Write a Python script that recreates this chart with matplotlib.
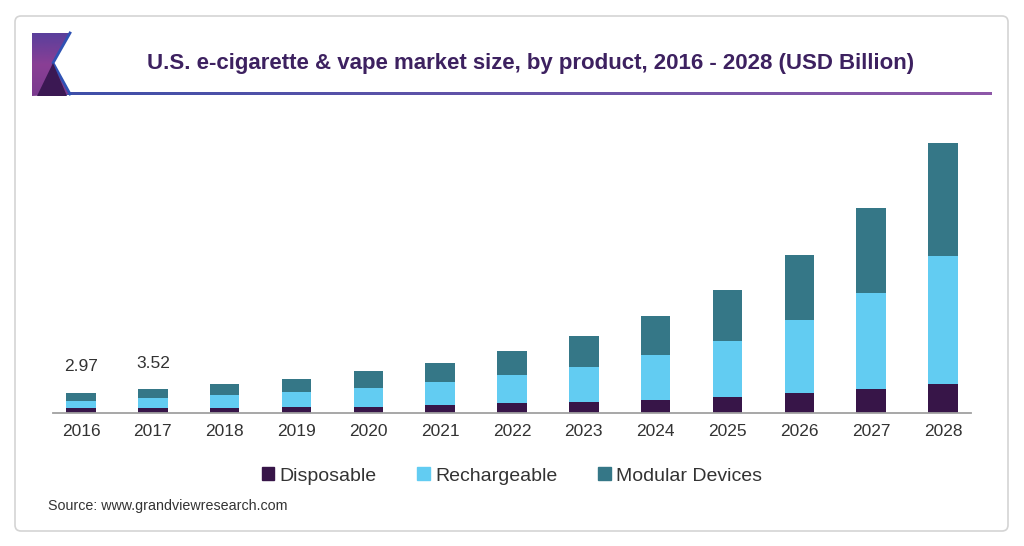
import matplotlib
matplotlib.use("Agg")
import matplotlib.pyplot as plt
import numpy as np
from matplotlib.patches import Polygon, FancyBboxPatch, Patch

plt.rcParams['font.family'] = ['Liberation Sans', 'DejaVu Sans']

# Data (USD Billion)
years = ['2016', '2017', '2018', '2019', '2020', '2021', '2022',
         '2023', '2024', '2025', '2026', '2027', '2028']
disposable = [0.62, 0.66, 0.65, 0.89, 0.89, 1.14, 1.40, 1.63, 1.89, 2.30, 2.90, 3.49, 4.23]
rechargeable = [1.15, 1.48, 1.98, 2.23, 2.73, 3.37, 4.16, 5.20, 6.69, 8.32, 10.85, 14.26, 19.02]
modular = [1.20, 1.38, 1.63, 1.93, 2.57, 2.82, 3.51, 4.56, 5.69, 7.58, 9.66, 12.63, 16.79]
labels = {0: '2.97', 1: '3.52'}

c_disp = '#371548'
c_rech = '#62ccf2'
c_mod = '#357787'

fig = plt.figure(figsize=(10.24, 5.46), dpi=100)

# decoration layer in pixel coordinates (frame, logo, title rule)
deco = fig.add_axes([0, 0, 1, 1], zorder=0)
deco.set_xlim(0, 1024)
deco.set_ylim(546, 0)
deco.axis('off')

frame = FancyBboxPatch((15, 16), 993, 515, boxstyle='round,pad=0,rounding_size=6',
                       facecolor='white', edgecolor='#d4d4d4', linewidth=1.2)
deco.add_patch(frame)

# gradient rule under the title
rule_cmap = matplotlib.colors.LinearSegmentedColormap.from_list('rule', ['#3c4fa8', '#8e58a8'])
deco.imshow(np.linspace(0, 1, 256).reshape(1, -1), extent=(33, 992, 95, 92),
            cmap=rule_cmap, aspect='auto', zorder=1)

# logo
logo = Polygon([(32, 33), (70, 33), (53, 63), (70, 94), (32, 96)], closed=True,
               facecolor='none', edgecolor='none')
deco.add_patch(logo)
grad = np.linspace(0, 1, 100).reshape(-1, 1)
cmap = matplotlib.colors.LinearSegmentedColormap.from_list('lg', ['#5a3f9c', '#8a3f95', '#7a3a8e'])
im = deco.imshow(grad, extent=(32, 70, 96, 33), cmap=cmap, aspect='auto', zorder=2)
im.set_clip_path(logo)
deco.plot([70, 53, 70], [33, 63, 94], color='#2f52b4', lw=2.0, zorder=3)
deco.add_patch(Polygon([(37, 96), (53, 63), (67, 96)], closed=True,
                       facecolor='#3b1853', edgecolor='none', zorder=4))
deco.set_xlim(0, 1024)
deco.set_ylim(546, 0)

fig.text(531 / 1024, 1 - 63 / 546,
         'U.S. e-cigarette & vape market size, by product, 2016 - 2028 (USD Billion)',
         ha='center', va='center', fontsize=16, fontweight='bold', color='#3d2160')

# main chart
ax = fig.add_axes([53 / 1024, 0.2445, (971 - 53) / 1024, 0.5174], zorder=2)
ax.patch.set_alpha(0)
x = np.arange(len(years))
w = 0.41
bottom2 = np.array(disposable)
bottom3 = bottom2 + np.array(rechargeable)
ax.bar(x, disposable, w, color=c_disp, label='Disposable')
ax.bar(x, rechargeable, w, bottom=bottom2, color=c_rech, label='Rechargeable')
ax.bar(x, modular, w, bottom=bottom3, color=c_mod, label='Modular Devices')

totals = bottom3 + np.array(modular)
for i, txt in labels.items():
    ax.annotate(txt, (x[i], totals[i]), xytext=(0, 13), textcoords='offset points',
                ha='center', va='bottom', fontsize=12.5, color='#333333')

ax.set_xlim(-0.39, 12.39)
ax.set_ylim(0, 41.98)
ax.set_xticks(x, years)
ax.set_yticks([])
ax.tick_params(axis='x', length=0, pad=8, labelsize=12.5, labelcolor='#333333')
for s in ['top', 'left', 'right']:
    ax.spines[s].set_visible(False)
ax.spines['bottom'].set_color('#a0a0a0')
ax.spines['bottom'].set_linewidth(1.3)

handles = [Patch(color=c_disp), Patch(color=c_rech), Patch(color=c_mod)]
fig.legend(handles, ['Disposable', 'Rechargeable', 'Modular Devices'],
           loc='center', bbox_to_anchor=(0.5, 1 - 476 / 546), ncol=3, frameon=False,
           fontsize=14.0, handlelength=0.62, handleheight=0.62, handletextpad=0.3,
           columnspacing=2.1, labelcolor='#333333')

fig.text(48 / 1024, 1 - 506 / 546, 'Source: www.grandviewresearch.com',
         ha='left', va='center', fontsize=10.3, color='#333333')

fig.savefig('out.png', dpi=100)
